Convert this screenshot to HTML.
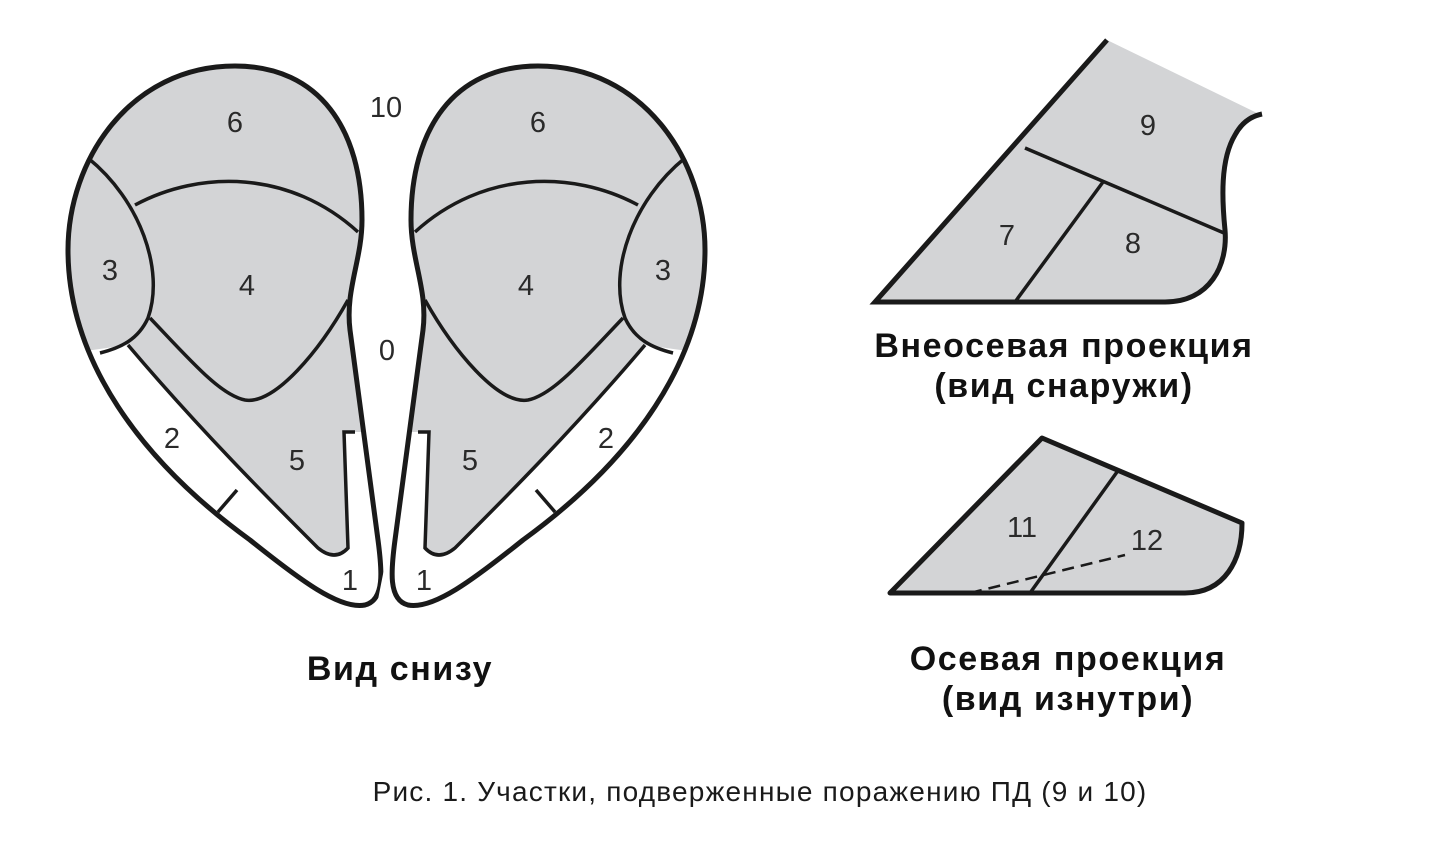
<!DOCTYPE html>
<html><head><meta charset="utf-8"><style>
html,body{margin:0;padding:0;background:#fff;}
svg{display:block;}
text{font-family:"Liberation Sans",sans-serif;}
.n{font-size:29px;fill:#2a2a2a;text-anchor:middle;}
.t{font-size:34px;font-weight:bold;fill:#111;text-anchor:middle;letter-spacing:1.6px;}
</style></head><body>
<svg width="1456" height="846" viewBox="0 0 1456 846">
<defs>
<g id="claw">
  <path d="M365,605 C385,600 382,570 378,540 L350,330 C345,290 362,260 362,220 C362,130 320,66 235,66 C130,66 68,160 68,250 C68,360 140,460 250,540 C300,580 340,610 365,605 Z" fill="#d3d4d6"/>
  <path d="M128,345 C200,430 270,500 318,548 Q335,562 348,548 L344,432 L362,432 L400,625 L50,625 L50,356 Z" fill="#fff"/>
  <path d="M365,605 C385,600 382,570 378,540 L350,330 C345,290 362,260 362,220 C362,130 320,66 235,66 C130,66 68,160 68,250 C68,360 140,460 250,540 C300,580 340,610 365,605 Z" fill="none" stroke="#1a1a1a" stroke-width="5"/>
  <g fill="none" stroke="#1a1a1a" stroke-width="3.5">
    <path d="M88,158 C140,200 165,270 148,318 C138,340 120,348 100,353"/>
    <path d="M135,205 C200,170 290,170 358,232"/>
    <path d="M150,318 C190,360 220,395 245,400 C275,405 320,350 348,300"/>
    <path d="M128,345 C200,430 270,500 318,548 Q335,562 348,548 L344,432 L355,432"/>
    <path d="M237,490 L218,512"/>
  </g>
</g>
</defs>
<use href="#claw"/>
<use href="#claw" transform="translate(773,0) scale(-1,1)"/>
<g class="n">
<text x="235" y="132">6</text><text x="386" y="117">10</text><text x="110" y="280">3</text>
<text x="247" y="295">4</text><text x="387" y="360">0</text><text x="172" y="448">2</text>
<text x="297" y="470">5</text><text x="350" y="590">1</text>
<text x="538" y="132">6</text><text x="663" y="280">3</text><text x="526" y="295">4</text>
<text x="606" y="448">2</text><text x="470" y="470">5</text><text x="424" y="590">1</text>
</g>
<path d="M1107,40 L875,302 L1165,302 C1210,302 1228,265 1225,230 C1222,200 1220,160 1235,135 C1242,122 1252,116 1257,113 Z" fill="#d3d4d6"/>
<path d="M1107,40 L875,302 L1165,302 C1210,302 1228,265 1225,230 C1222,200 1220,160 1235,135 C1242,122 1252,116 1262,114" fill="none" stroke="#1a1a1a" stroke-width="5"/>
<g fill="none" stroke="#1a1a1a" stroke-width="3.5">
<path d="M1025,148 L1224,233"/><path d="M1103,182 L1015,302"/>
</g>
<g class="n"><text x="1148" y="135">9</text><text x="1007" y="245">7</text><text x="1133" y="253">8</text></g>
<path d="M1042,438 L890,593 L1185,593 C1225,593 1242,560 1242,523 Z" fill="#d3d4d6"/>
<path d="M1042,438 L890,593 L1185,593 C1225,593 1242,560 1242,523 Z" fill="none" stroke="#1a1a1a" stroke-width="5" stroke-linejoin="round"/>
<path d="M1117,472 L1030,593" stroke="#1a1a1a" stroke-width="3.5"/>
<path d="M970,593 L1125,555" stroke="#1a1a1a" stroke-width="2.5" stroke-dasharray="12,7"/>
<g class="n"><text x="1022" y="537">11</text><text x="1147" y="550">12</text></g>
<text class="t" x="1064" y="357">Внеосевая проекция</text>
<text class="t" x="1064" y="397">(вид снаружи)</text>
<text class="t" x="400" y="680">Вид снизу</text>
<text class="t" x="1068" y="670">Осевая проекция</text>
<text class="t" x="1068" y="710">(вид изнутри)</text>
<text x="760" y="801" style="font-size:28px;fill:#1a1a1a;text-anchor:middle;letter-spacing:1.2px">Рис. 1. Участки, подверженные поражению ПД (9 и 10)</text>
</svg>
</body></html>
